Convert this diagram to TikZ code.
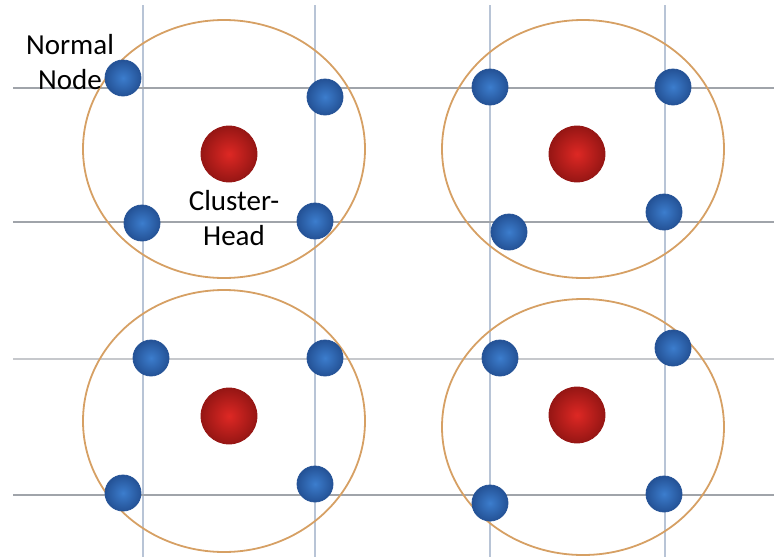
\documentclass[tikz,border=0pt]{standalone}
\usepackage{fontspec}
\setmainfont{Carlito}
\usepackage{tikz}
\usetikzlibrary{positioning}

\definecolor{ringorange}{RGB}{214,160,100}
\definecolor{gridblue}{RGB}{184,196,214}
\definecolor{gridgray}{RGB}{160,164,170}
\definecolor{nodeblue}{RGB}{60,125,205}
\definecolor{nodeblueedge}{RGB}{36,82,150}
\definecolor{headred}{RGB}{222,40,36}
\definecolor{headrededge}{RGB}{150,22,20}

\begin{document}
\begin{tikzpicture}[
    x=1pt, y=-1pt,
    gridv/.style={gridblue, line width=1.6pt},
    gridh/.style={gridgray, line width=1.6pt},
    cluster/.style={ringorange, line width=1.8pt},
    normalnode/.style={circle, minimum size=36pt, inner sep=0pt, draw=nodeblueedge, line width=0.8pt,
        shading=radial, inner color=nodeblue, outer color=nodeblueedge},
    headnode/.style={circle, minimum size=56pt, inner sep=0pt, draw=headrededge, line width=0.8pt,
        shading=radial, inner color=headred, outer color=headrededge},
    lbl/.style={align=center, inner sep=0pt, text=black, font=\fontsize{29}{35}\selectfont}
]
\useasboundingbox (0,0) rectangle (774,557);

% grid
\draw[gridv] (143,5) -- (143,557);
\draw[gridv] (315,5) -- (315,557);
\draw[gridv] (490,5) -- (490,557);
\draw[gridv] (665,5) -- (665,557);
\draw[gridh] (13,88) -- (774,88);
\draw[gridh] (13,222) -- (774,222);
\draw[gridh, gridgray!60] (13,359) -- (774,359);
\draw[gridh] (13,495) -- (774,495);

% cluster ranges
\draw[cluster] (224,149) ellipse (141 and 129);
\draw[cluster] (583,149) ellipse (141 and 129);
\draw[cluster] (224,421) ellipse (141 and 131);
\draw[cluster] (583,427) ellipse (141 and 128);

% cluster heads
\node[headnode] (ch1) at (229,154) {};
\node[headnode] (ch2) at (577,154) {};
\node[headnode] (ch3) at (229,416) {};
\node[headnode] (ch4) at (577,415) {};

% normal nodes
\node[normalnode] (n11) at (123,78) {};
\node[normalnode] (n12) at (325,97) {};
\node[normalnode] (n13) at (142,223) {};
\node[normalnode] (n14) at (315,221) {};

\node[normalnode] (n21) at (490,87) {};
\node[normalnode] (n22) at (673,87) {};
\node[normalnode] (n23) at (509,232) {};
\node[normalnode] (n24) at (664,212) {};

\node[normalnode] (n31) at (151,358) {};
\node[normalnode] (n32) at (325,358) {};
\node[normalnode] (n33) at (123,493) {};
\node[normalnode] (n34) at (315,484) {};

\node[normalnode] (n41) at (500,358) {};
\node[normalnode] (n42) at (673,348) {};
\node[normalnode] (n43) at (490,503) {};
\node[normalnode] (n44) at (664,494) {};

% labels
\node[lbl] (normallbl) at (70,62) {Normal\\Node};
\node[lbl] (headlbl) at (234,218) {Cluster-\\Head};
\end{tikzpicture}
\end{document}
